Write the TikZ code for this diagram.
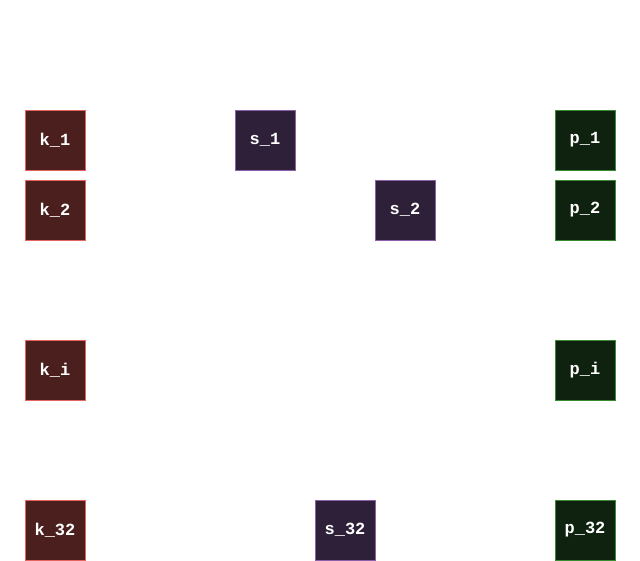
\documentclass[tikz,border=0pt]{standalone}
\usepackage{fontspec}
\setmonofont{Liberation Mono}
\begin{document}
\begin{tikzpicture}[x=1pt,y=-1pt,
  box/.style={minimum width=60pt,minimum height=60pt,inner sep=0pt,line width=0.8pt,
    font=\fontsize{17}{19}\selectfont\ttfamily\bfseries,text=white},
  kbox/.style={box,draw={rgb,255:red,230;green,100;blue,95},fill={rgb,255:red,74;green,31;blue,29}},
  sbox/.style={box,draw={rgb,255:red,140;green,95;blue,170},fill={rgb,255:red,46;green,32;blue,56}},
  pbox/.style={box,draw={rgb,255:red,55;green,140;blue,50},fill={rgb,255:red,15;green,34;blue,15}}]
\useasboundingbox (0,0) rectangle (640,561);
\node[kbox] (k1) at (55,140) {k\_1};
\node[kbox] (k2) at (55,210) {k\_2};
\node[kbox] (ki) at (55,370) {k\_i};
\node[kbox] (k32) at (55,530) {k\_32};
\node[sbox] (s1) at (265,140) {s\_1};
\node[sbox] (s2) at (405,210) {s\_2};
\node[sbox] (s32) at (345,530) {s\_32};
\node[pbox] (p1) at (585,140) {p\_1};
\node[pbox] (p2) at (585,210) {p\_2};
\node[pbox] (pi) at (585,370) {p\_i};
\node[pbox] (p32) at (585,530) {p\_32};
\end{tikzpicture}
\end{document}
